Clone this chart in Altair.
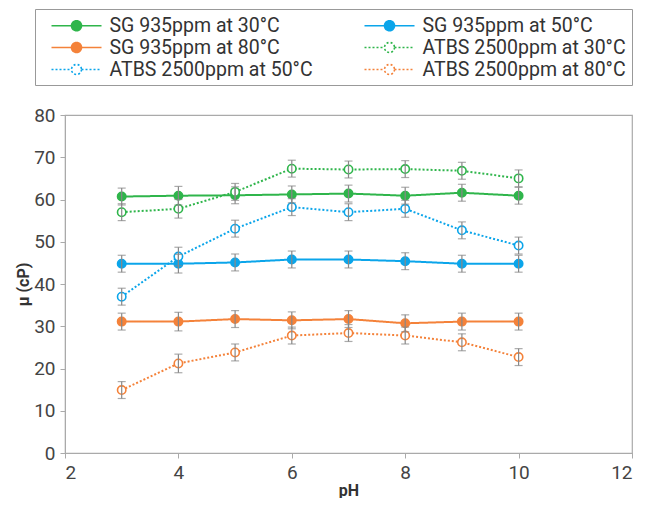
import altair as alt
import pandas as pd

ph = [3, 4, 5, 6, 7, 8, 9, 10]
series_names = [
    "SG 935ppm at 30°C",
    "SG 935ppm at 50°C",
    "SG 935ppm at 80°C",
    "ATBS 2500ppm at 30°C",
    "ATBS 2500ppm at 50°C",
    "ATBS 2500ppm at 80°C",
]
sg30 = [60.7, 60.9, 61.0, 61.2, 61.4, 60.9, 61.6, 60.9]
sg50 = [44.8, 44.8, 45.1, 45.8, 45.8, 45.4, 44.8, 44.8]
sg80 = [31.1, 31.1, 31.7, 31.4, 31.7, 30.7, 31.1, 31.1]
atbs30 = [57.0, 57.8, 61.8, 67.3, 67.1, 67.2, 66.8, 65.0]
atbs50 = [37.0, 46.5, 53.1, 58.2, 57.0, 57.8, 52.7, 49.1]
atbs80 = [14.9, 21.2, 23.8, 27.8, 28.4, 27.8, 26.2, 22.7]
err = [2.0, 2.2, 2.0, 2.0, 2.0, 2.0, 2.0, 2.0]

colors = ["#2fb54b", "#0ba5ea", "#f4823a", "#2fb54b", "#0ba5ea", "#f4823a"]
fills = ["#2fb54b", "#0ba5ea", "#f4823a", "#ffffff", "#ffffff", "#ffffff"]
dashes = [[1, 0], [1, 0], [1, 0], [2, 2], [2, 2], [2, 2]]

rows = []
for name, vals in zip(series_names, [sg30, sg50, sg80, atbs30, atbs50, atbs80]):
    for x, v, e in zip(ph, vals, err):
        rows.append({"series": name, "pH": x, "mu": v, "lo": v - e, "hi": v + e})
df = pd.DataFrame(rows)

FONT = "Roboto"
legend_path = ("M0,0 L2,0 M3,0 L5,0 "
               "M3,0 A0.5,0.5 0 1,1 2,0 A0.5,0.5 0 1,1 3,0")
LX, LY = -30, -106

color_enc = alt.Color("series:N", scale=alt.Scale(domain=series_names, range=colors),
                      legend=alt.Legend(
                          title=None, orient="none", legendX=LX, legendY=LY,
                          columns=2, direction="horizontal",
                          columnPadding=40, rowPadding=1,
                          symbolType=legend_path, symbolSize=400, symbolStrokeWidth=1.6,
                          labelFontSize=19.5, labelColor="#333", labelFont=FONT,
                          labelOffset=47, labelLimit=400, padding=5.5,
                          strokeColor="#999", fillColor="#ffffff", cornerRadius=0))
dash_enc = alt.StrokeDash("series:N", scale=alt.Scale(domain=series_names, range=dashes),
                          legend=alt.Legend(title=None, orient="none", legendX=LX, legendY=LY,
                                            columns=2, direction="horizontal"))
fill_enc = alt.Fill("series:N", scale=alt.Scale(domain=series_names, range=fills),
                    legend=alt.Legend(title=None, orient="none", legendX=LX, legendY=LY,
                                      columns=2, direction="horizontal"))

x_enc = alt.X("pH:Q", scale=alt.Scale(domain=[2, 12], nice=False),
              axis=alt.Axis(title="pH", values=[2, 4, 6, 8, 10, 12], format="d", grid=False,
                            titleFontSize=16, titleFontWeight="bold", titleColor="#333",
                            titlePadding=0))
y_enc = alt.Y("mu:Q", scale=alt.Scale(domain=[0, 80], nice=False),
              axis=alt.Axis(title="μ (cP)", values=[0, 10, 20, 30, 40, 50, 60, 70, 80],
                            format="d", grid=False, titleFontSize=16, titleFontWeight="bold",
                            titleColor="#333", titlePadding=2))

base = alt.Chart(df)
lines = base.mark_line(strokeWidth=2).encode(x=x_enc, y=y_enc, color=color_enc,
                                              strokeDash=dash_enc)
points = base.mark_point(size=70, strokeWidth=1.6, opacity=1).encode(
    x="pH:Q", y="mu:Q", color=color_enc, fill=fill_enc, shape=alt.value("circle"))
bars = base.mark_errorbar(ticks=alt.MarkConfig(size=8, color="#888"), color="#888",
                          thickness=1.2).encode(
    x="pH:Q", y=alt.Y("lo:Q", title="μ (cP)"), y2="hi:Q")

chart = alt.layer(lines, points, bars).properties(
    width=567, height=338,
    padding={"left": 57, "top": 107, "right": 10, "bottom": 45},
    autosize=alt.AutoSizeParams(type="none"),
).configure_axis(
    domainColor="#aaa", tickColor="#aaa", tickSize=5,
    labelFontSize=19, labelColor="#444", labelFont=FONT, titleFont=FONT,
    labelPadding=5,
).configure_view(stroke="#aaa", strokeWidth=1.2)

chart.save("out.html", embed_options={"renderer": "svg", "actions": False})
